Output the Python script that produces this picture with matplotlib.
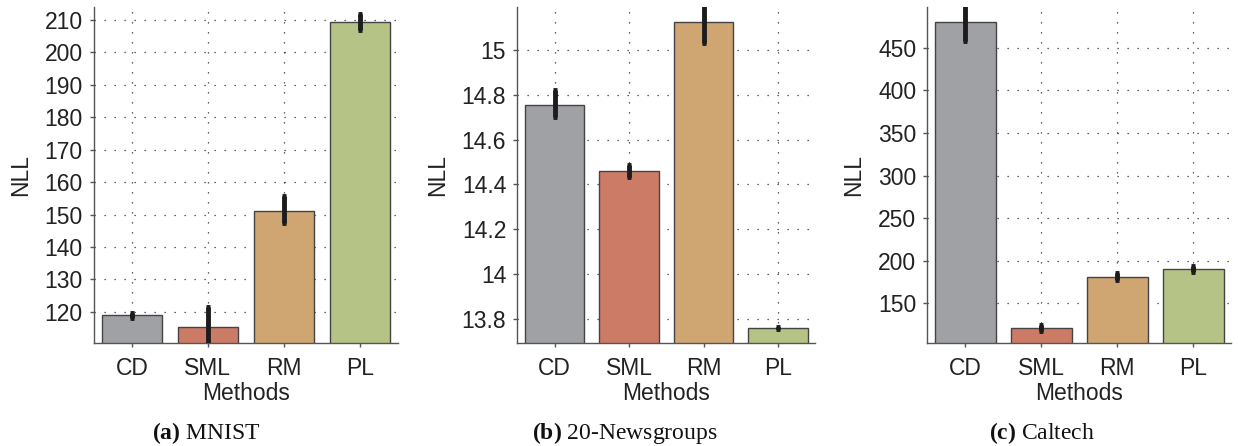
import matplotlib
matplotlib.use("Agg")
import matplotlib.pyplot as plt

plt.rcParams['font.family'] = ['Liberation Sans', 'DejaVu Sans']
plt.rcParams['mathtext.fontset'] = 'custom'
plt.rcParams['mathtext.bf'] = 'Liberation Serif:bold'
plt.rcParams['mathtext.rm'] = 'Liberation Serif'

methods = ['CD', 'SML', 'RM', 'PL']
colors = ['#a0a1a5', '#cc7b67', '#cfa572', '#b6c386']

# MNIST
mnist_nll = [119.0, 115.2, 151.2, 209.4]
mnist_lo = [118.2, 109.0, 147.3, 207.0]
mnist_hi = [119.8, 121.6, 155.8, 211.8]
mnist_ticks = [120, 130, 140, 150, 160, 170, 180, 190, 200, 210]

# 20-Newsgroups
news_nll = [14.755, 14.46, 15.124, 13.758]
news_lo = [14.70, 14.433, 15.033, 13.753]
news_hi = [14.82, 14.487, 15.22, 13.763]
news_ticks = [13.8, 14.0, 14.2, 14.4, 14.6, 14.8, 15.0]

# Caltech
cal_nll = [479.9, 121.0, 180.5, 190.3]
cal_lo = [458.0, 118.0, 177.0, 187.0]
cal_hi = [505.0, 124.0, 185.0, 194.0]
cal_ticks = [150, 200, 250, 300, 350, 400, 450]

panels = [
    (mnist_nll, mnist_lo, mnist_hi, mnist_ticks, (110.4, 214.0),
     [0.0759, 0.2309, 0.2456, 0.7534], 'a', 'MNIST', 0.167),
    (news_nll, news_lo, news_hi, news_ticks, (13.691, 15.192),
     [0.4179, 0.2309, 0.2407, 0.7534], 'b', '20-Newsgroups', 0.505),
    (cal_nll, cal_lo, cal_hi, cal_ticks, (103.4, 497.8),
     [0.7490, 0.2309, 0.2456, 0.7534], 'c', 'Caltech', 0.8415),
]

fig = plt.figure(figsize=(12.38, 4.46), dpi=100)

for vals, lo, hi, ticks, ylim, rect, letter, name, cx in panels:
    ax = fig.add_axes(rect)
    x = list(range(len(methods)))
    ax.bar(x, vals, width=0.8, color=colors, edgecolor='#444444',
           linewidth=1.0, zorder=2)
    yerr = [[v - l for v, l in zip(vals, lo)], [h - v for v, h in zip(vals, hi)]]
    ax.errorbar(x, vals, yerr=yerr, fmt='none', ecolor='#1c1c1c',
                elinewidth=3.5, capsize=1.2, capthick=3.5, zorder=3)
    ax.set_xlim(-0.5, 3.5)
    ax.set_ylim(*ylim)
    ax.set_xticks(x)
    ax.set_xticklabels(methods)
    ax.set_yticks(ticks)
    ax.set_yticklabels(['%g' % t for t in ticks])
    ax.set_axisbelow(True)
    ax.grid(True, color='#333333', linestyle=(0, (1, 7)), linewidth=0.9)
    for s in ['top', 'right']:
        ax.spines[s].set_visible(False)
    for s in ['left', 'bottom']:
        ax.spines[s].set_color('#555555')
        ax.spines[s].set_linewidth(1.0)
    ax.tick_params(axis='both', labelsize=16.5, colors='#555555',
                   labelcolor='#222222', length=3, width=1)
    ax.tick_params(axis='x', pad=7)
    ax.tick_params(axis='y', pad=5)
    ax.set_xlabel('Methods', fontsize=16.5, color='#222222', labelpad=1.5)
    ax.set_ylabel('NLL', fontsize=16.5, color='#222222', labelpad=9)
    fig.text(cx, 0.015, r'$\mathbf{(%s)}$ %s' % (letter, name),
             family='Liberation Serif', fontsize=17, ha='center', va='baseline',
             color='#111111')

fig.savefig('out.png', dpi=100)
